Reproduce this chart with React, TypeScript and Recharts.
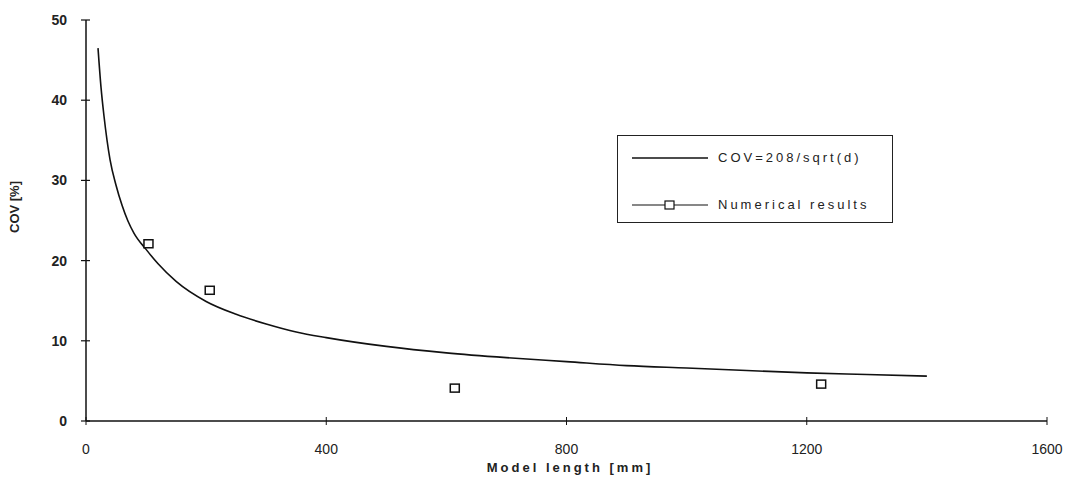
import {
  ComposedChart,
  Line,
  Scatter,
  XAxis,
  YAxis,
} from "recharts";

// curve COV = 208/sqrt(d)
const curveLength = [20, 25, 30, 40, 50, 60, 70, 80, 100, 120, 150, 200, 250, 300, 350, 400, 500, 600, 700, 800, 900, 1000, 1100, 1200, 1300, 1400];
const curveCov = [46.5, 41.6, 38.0, 32.6, 29.4, 26.9, 24.9, 23.4, 21.4, 19.6, 17.4, 14.9, 13.3, 12.1, 11.1, 10.4, 9.3, 8.5, 7.9, 7.4, 6.9, 6.6, 6.3, 6.0, 5.8, 5.6];

// numerical results
const numLength = [104, 206, 614, 1224];
const numCov = [22.1, 16.3, 4.1, 4.6];

const xTicks = [0, 400, 800, 1200, 1600];
const yTicks = [0, 10, 20, 30, 40, 50];

const curveData = curveLength.map((d, i) => ({ d, cov: curveCov[i] }));
const numData = numLength.map((d, i) => ({ d, cov: numCov[i] }));

const FONT = "'Liberation Sans', Arial, sans-serif";

const XTick = (props: any) => {
  const { x, y, payload } = props;
  return (
    <g>
      <line x1={x} x2={x} y1={y - 4} y2={y + 4} stroke="#111" strokeWidth={1} />
      <text x={x} y={y + 33} textAnchor="middle" fontSize={14} fill="#222" fontFamily={FONT}>
        {payload.value}
      </text>
    </g>
  );
};

const YTick = (props: any) => {
  const { x, y, payload } = props;
  return (
    <g>
      <line x1={x - 5} x2={x + 4} y1={y} y2={y} stroke="#111" strokeWidth={1.2} />
      <text x={x - 19} y={y + 5} textAnchor="end" fontSize={14} fill="#222" fontWeight={600} fontFamily={FONT}>
        {payload.value}
      </text>
    </g>
  );
};

const Square = (props: any) => {
  const { cx, cy } = props;
  return <rect x={cx - 4.5} y={cy - 4} width={9} height={8} fill="#fff" stroke="#111" strokeWidth={1.5} />;
};

const LegendBox = () => (
  <div
    style={{
      position: "absolute",
      left: 609,
      top: 127,
      width: 276,
      height: 88,
      border: "1.5px solid #222",
      boxSizing: "border-box",
      background: "#fff",
      fontFamily: FONT,
      fontSize: 13,
      color: "#222",
    }}
  >
    <svg width={100} height={85} style={{ position: "absolute", left: 0, top: 0 }}>
      <line x1={14} x2={90} y1={22} y2={22} stroke="#111" strokeWidth={1.5} />
      <line x1={14} x2={90} y1={69} y2={69} stroke="#111" strokeWidth={1.2} />
      <rect x={47} y={65} width={9} height={8} fill="#fff" stroke="#111" strokeWidth={1.2} />
    </svg>
    <div style={{ position: "absolute", left: 100, top: 14, letterSpacing: 3, whiteSpace: "nowrap" }}>
      COV=208/sqrt(d)
    </div>
    <div style={{ position: "absolute", left: 100, top: 61, letterSpacing: 3, whiteSpace: "nowrap" }}>
      Numerical results
    </div>
  </div>
);

export default function App() {
  return (
    <div style={{ position: "relative", width: 1060, height: 476 }}>
      <ComposedChart
        width={1060}
        height={476}
        margin={{ top: 12, right: 21, bottom: 13, left: 38 }}
      >
        <XAxis
          dataKey="d"
          type="number"
          domain={[0, 1600]}
          ticks={xTicks}
          allowDataOverflow
          stroke="#111"
          strokeWidth={1.5}
          tickSize={0}
          tickMargin={0}
          tick={<XTick />}
          height={50}
          label={{
            content: () => (
              <text x={562} y={464} textAnchor="middle" fontSize={13} fontWeight="bold" letterSpacing={3} fill="#222" fontFamily={FONT}>
                Model length [mm]
              </text>
            ),
          }}
        />
        <YAxis
          dataKey="cov"
          type="number"
          domain={[0, 50]}
          ticks={yTicks}
          stroke="#111"
          strokeWidth={1.5}
          tickSize={0}
          tickMargin={0}
          tick={<YTick />}
          width={40}
          label={{
            content: () => (
              <text x={11} y={199} textAnchor="middle" fontSize={13} fontWeight="bold" fill="#222" fontFamily={FONT} transform="rotate(-90 11 199)">
                COV [%]
              </text>
            ),
          }}
        />
        <Line
          data={curveData}
          dataKey="cov"
          type="monotone"
          stroke="#111"
          strokeWidth={1.6}
          dot={false}
          activeDot={false}
          isAnimationActive={false}
        />
        <Scatter
          data={numData}
          dataKey="cov"
          shape={<Square />}
          isAnimationActive={false}
        />
      </ComposedChart>
      <LegendBox />
    </div>
  );
}
